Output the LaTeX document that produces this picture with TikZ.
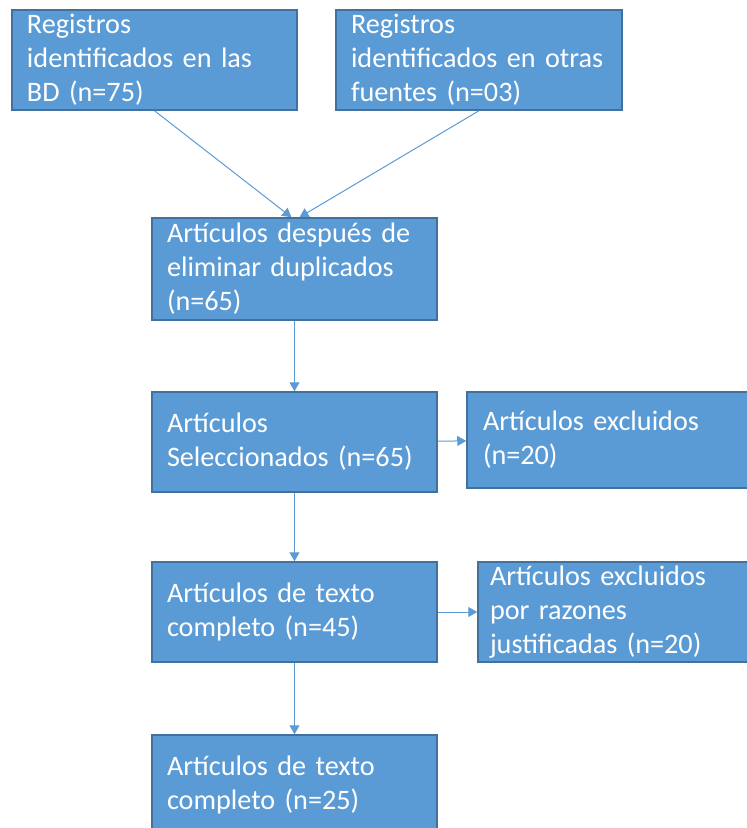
\documentclass[tikz,border=0pt]{standalone}
\usepackage{fontspec}
\setmainfont{Carlito}
\usetikzlibrary{arrows.meta}
\definecolor{boxblue}{RGB}{91,155,213}
\definecolor{boxedge}{RGB}{65,113,156}
\begin{document}
\begin{tikzpicture}[x=1pt,y=-1pt]
\tikzstyle{stage}=[
  rectangle,
  draw=boxedge,
  fill=boxblue,
  line width=1.5pt,
  text=white,
  font=\fontsize{28.2}{34}\selectfont,
  align=left,
  inner xsep=15pt,
  inner ysep=0pt,
  minimum height=100pt,
  text width=255pt ]
\tikzstyle{link}=[draw=boxblue, line width=1pt, -{Triangle[width=10pt,length=9pt]}]
\useasboundingbox (0,0) rectangle (747,828);
\clip (0,0) rectangle (747,828);
\node[stage] (reg bd) at (154.5,60) {Registros\\identificados en las\\BD (n=75)};
\node[stage, text width=256pt] (reg otras) at (479,60) {Registros\\identificados en otras\\fuentes (n=03)};
\node[stage, minimum height=102pt] (sin dup) at (294.5,269) {Artículos después de\\eliminar duplicados\\(n=65)};
\node[stage] (selec) at (294.5,442) {Artículos\\Seleccionados (n=65)};
\node[stage, inner xsep=16pt, text width=260pt, minimum height=96pt] (excl) at (613,440) {Artículos excluidos\\(n=20)};
\node[stage] (texto) at (294.5,612) {Artículos de texto\\completo (n=45)};
\node[stage, inner xsep=12pt, text width=260pt] (excl raz) at (620,612) {Artículos excluidos\\por razones\\justificadas (n=20)};
\node[stage] (final) at (294.5,785) {Artículos de texto\\completo (n=25)};
\draw[link] (reg bd.south) -- ([xshift=-3pt]sin dup.north);
\draw[link] (reg otras.south) -- ([xshift=5pt]sin dup.north);
\draw[link] (sin dup) -- (selec);
\draw[link] (selec) -- (excl);
\draw[link] (selec) -- (texto);
\draw[link] (texto) -- (excl raz);
\draw[link] (texto) -- (final);
\end{tikzpicture}
\end{document}
